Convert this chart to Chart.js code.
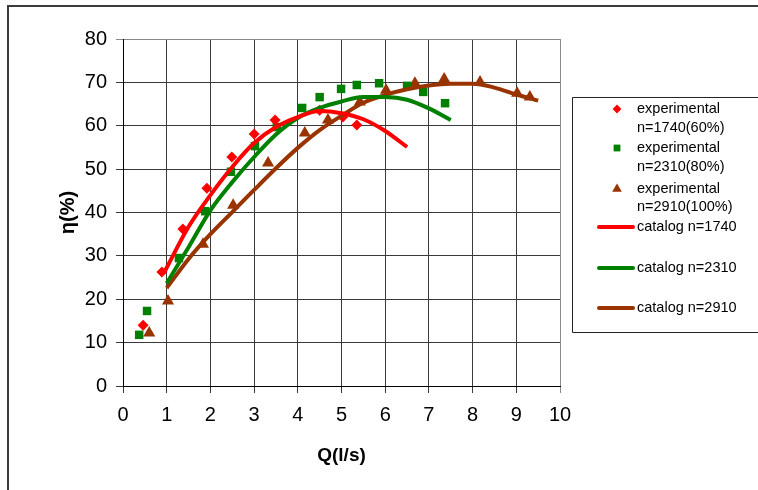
<!DOCTYPE html>
<html><head><meta charset="utf-8">
<script src="https://cdn.jsdelivr.net/npm/chart.js@4/dist/chart.umd.min.js"></script>
<style>html,body{margin:0;padding:0;background:#fff;}#wrap{position:relative;width:758px;height:490px;}</style>
</head><body><div id="wrap"><canvas id="c" width="758" height="490"></canvas></div>
<script>
// Experimental points
const expQ1740 = [0.46, 0.89, 1.37, 1.92, 2.49, 3.0, 3.48, 4.5, 5.03, 5.35];
const expEta1740 = [14.0, 26.3, 36.2, 45.6, 52.8, 58.1, 61.3, 63.6, 62.0, 60.2];
const expQ2310 = [0.37, 0.55, 1.28, 1.88, 2.47, 3.02, 3.52, 4.1, 4.5, 4.99, 5.35, 5.86, 6.5, 6.87, 7.37];
const expEta2310 = [11.8, 17.3, 29.5, 40.3, 49.4, 55.3, 59.7, 64.1, 66.6, 68.5, 69.4, 69.8, 69.2, 67.8, 65.2];
const expQ2910 = [0.6, 1.03, 1.83, 2.52, 3.32, 4.16, 4.69, 5.42, 6.02, 6.68, 7.35, 8.17, 9.02, 9.31];
const expEta2910 = [12.2, 19.6, 32.7, 41.7, 51.4, 58.3, 61.3, 65.5, 68.2, 69.8, 70.8, 70.1, 67.5, 66.6];
// Catalog curves
const catQ1740 = [0.97, 1.5, 2, 2.5, 3, 3.5, 4, 4.5, 5, 5.5, 6, 6.5];
const catEta1740 = [26.7, 36.7, 44.0, 50.5, 56.0, 59.7, 62.0, 63.4, 62.9, 61.5, 58.8, 55.1];
const catQ2310 = [1.0, 1.5, 2, 2.5, 3, 3.5, 4, 4.5, 5, 5.5, 6, 6.5, 7, 7.5];
const catEta2310 = [23.7, 32.0, 40.5, 47.0, 52.8, 58.0, 61.8, 64.1, 65.6, 66.6, 66.6, 66.0, 64.0, 61.3];
const catQ2910 = [1.0, 1.5, 2, 2.5, 3, 3.5, 4, 4.5, 5, 5.5, 6, 6.5, 7, 7.5, 8, 8.5, 9, 9.5];
const catEta2910 = [22.6, 29.3, 35.0, 40.1, 45.2, 50.2, 54.9, 59.0, 62.3, 65.3, 67.1, 68.4, 69.3, 69.7, 69.7, 68.8, 67.2, 65.8];
// Labels and ticks
const seriesLabels = ['experimental\nn=1740(60%)', 'experimental\nn=2310(80%)', 'experimental\nn=2910(100%)', 'catalog n=1740', 'catalog n=2310', 'catalog n=2910'];
const xTicks = [0,1,2,3,4,5,6,7,8,9,10];
const yTicks = [0,10,20,30,40,50,60,70,80];
const xTitle = 'Q(l/s)';
const yTitle = 'η(%)';

const RED = '#ff0000', GREEN = '#008000', BROWN = '#993300';
const FONT = '"Liberation Sans", Arial, sans-serif';
const pts = (xs, ys) => xs.map((x, i) => ({x, y: ys[i]}));

const legendPlugin = {
  id: 'customLegend',
  beforeDraw(chart) {
    const ctx = chart.ctx;
    ctx.save();
    ctx.fillStyle = '#fff';
    ctx.fillRect(0, 0, chart.width, chart.height);
    ctx.strokeStyle = '#3c3c3c';
    ctx.lineWidth = 2;
    ctx.beginPath();
    ctx.moveTo(8, 490); ctx.lineTo(8, 6); ctx.lineTo(758, 6);
    ctx.stroke();
    ctx.restore();
  },
  afterDraw(chart) {
    const ctx = chart.ctx;
    ctx.save();
    ctx.strokeStyle = '#222';
    ctx.lineWidth = 1;
    ctx.beginPath();
    ctx.moveTo(760, 97.5); ctx.lineTo(572.5, 97.5); ctx.lineTo(572.5, 332.5); ctx.lineTo(760, 332.5);
    ctx.stroke();
    const rows = [[109, 128], [148, 167], [189, 207], [227], [268], [308]];
    ctx.font = '14.5px ' + FONT;
    ctx.textBaseline = 'middle';
    ctx.textAlign = 'left';
    chart.data.datasets.forEach((ds, i) => {
      const r = rows[i];
      const lines = ds.label.split('\n');
      if (ds.showLine) {
        ctx.strokeStyle = ds.borderColor;
        ctx.lineWidth = 4;
        ctx.lineCap = 'round';
        ctx.beginPath();
        ctx.moveTo(599, r[0]); ctx.lineTo(633, r[0]);
        ctx.stroke();
      } else {
        ctx.fillStyle = ds.backgroundColor;
        ctx.strokeStyle = ds.backgroundColor;
        Chart.helpers.drawPoint(ctx, {pointStyle: ds.pointStyle, rotation: 0, radius: ds.pointRadius * 0.8, borderWidth: 0}, 617, r[0]);
      }
      ctx.fillStyle = '#000';
      lines.forEach((t, k) => ctx.fillText(t, 637, r[k]));
    });
    ctx.restore();
  }
};

const gridColor = (edgeVal) => (c) => (c.tick && c.tick.value === edgeVal) ? '#8a8a8a' : '#3a3a3a';

new Chart(document.getElementById('c'), {
  type: 'scatter',
  data: {
    datasets: [
      {label: seriesLabels[0], data: pts(expQ1740, expEta1740), pointStyle: 'rectRot', pointRadius: 5.5, backgroundColor: RED, borderColor: RED, borderWidth: 0, showLine: false, order: 1},
      {label: seriesLabels[1], data: pts(expQ2310, expEta2310), pointStyle: 'rect', pointRadius: 6, backgroundColor: GREEN, borderColor: GREEN, borderWidth: 0, showLine: false, order: 1},
      {label: seriesLabels[2], data: pts(expQ2910, expEta2910), pointStyle: 'triangle', pointRadius: 7, backgroundColor: BROWN, borderColor: BROWN, borderWidth: 0, showLine: false, order: 1},
      {label: seriesLabels[3], data: pts(catQ1740, catEta1740), showLine: true, borderColor: RED, backgroundColor: RED, borderWidth: 4, pointRadius: 0, tension: 0.4, cubicInterpolationMode: 'monotone', order: 0},
      {label: seriesLabels[4], data: pts(catQ2310, catEta2310), showLine: true, borderColor: GREEN, backgroundColor: GREEN, borderWidth: 4, pointRadius: 0, tension: 0.4, cubicInterpolationMode: 'monotone', order: 0},
      {label: seriesLabels[5], data: pts(catQ2910, catEta2910), showLine: true, borderColor: BROWN, backgroundColor: BROWN, borderWidth: 4, pointRadius: 0, tension: 0.4, cubicInterpolationMode: 'monotone', order: 0}
    ]
  },
  options: {
    responsive: false,
    animation: false,
    devicePixelRatio: 1,
    layout: {padding: {left: 56, top: 39, right: 198, bottom: 23}},
    plugins: {legend: {display: false}, tooltip: {enabled: false}},
    scales: {
      x: {
        type: 'linear', min: 0, max: 10,
        afterBuildTicks: (s) => { s.ticks = xTicks.map(v => ({value: v})); },
        afterFit: (s) => { s.height = 81; },
        ticks: {font: {family: FONT, size: 20}, color: '#000', padding: 10, maxRotation: 0},
        grid: {color: gridColor(10), lineWidth: 1, tickLength: 7, drawTicks: true},
        border: {display: true, color: '#000', width: 1},
        title: {display: true, text: xTitle, font: {family: FONT, size: 19, weight: 'bold'}, color: '#000', padding: {top: 0, bottom: 0}}
      },
      y: {
        type: 'linear', min: 0, max: 80,
        afterBuildTicks: (s) => { s.ticks = yTicks.map(v => ({value: v})); },
        afterFit: (s) => { s.width = 67; },
        ticks: {font: {family: FONT, size: 20}, color: '#000', padding: 9},
        grid: {color: gridColor(80), lineWidth: 1, tickLength: 7, drawTicks: true},
        border: {display: true, color: '#000', width: 1},
        title: {display: true, text: yTitle, font: {family: FONT, size: 20, weight: 'bold'}, color: '#000', padding: {top: 0, bottom: 0}}
      }
    }
  },
  plugins: [legendPlugin]
});
</script></body></html>
